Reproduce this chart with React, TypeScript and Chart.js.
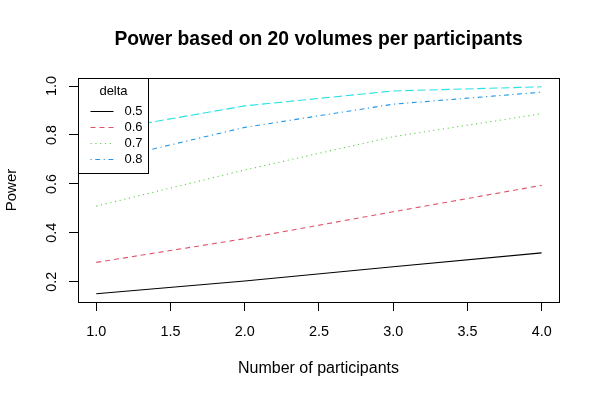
import React, { useEffect, useRef } from "react";
import { Chart, registerables } from "chart.js";

Chart.register(...registerables);

// ---- data ----
const participants = [1, 2, 3, 4];
const power05 = [0.151, 0.203, 0.261, 0.318];
const power06 = [0.279, 0.376, 0.486, 0.594];
const power07 = [0.509, 0.657, 0.793, 0.887];
const power08 = [0.688, 0.831, 0.926, 0.975];
const power09 = [0.813, 0.919, 0.98, 0.997];

const seriesLabels = ["0.5", "0.6", "0.7", "0.8", "0.9"];
const legendLabels = ["0.5", "0.6", "0.7", "0.8"];
const legendTitle = "delta";
const xTicks = [1, 1.5, 2, 2.5, 3, 3.5, 4];
const yTicks = [0.2, 0.4, 0.6, 0.8, 1.0];
const chartTitle = "Power based on 20 volumes per participants";
const xTitle = "Number of participants";
const yTitle = "Power";

// ---- styles ----
const colors = ["#000000", "#DF536B", "#61D04F", "#2297E6", "#28E2E5"];
const dashes: number[][] = [[], [5, 4], [1.2, 3.6], [1.2, 3.6, 4.8, 3.6], [8.4, 3.6]];
const FONT = "'Liberation Sans', Arial, Helvetica, sans-serif";

const allSeries = [power05, power06, power07, power08, power09];

const decorPlugin = {
  id: "decor",
  afterDraw(chart: any) {
    const { ctx, chartArea } = chart;
    const { left, right, top, bottom } = chartArea;
    ctx.save();
    // box
    ctx.strokeStyle = "#000";
    ctx.lineWidth = 1;
    ctx.setLineDash([]);
    ctx.strokeRect(Math.round(left) + 0.5, Math.round(top) + 0.5, Math.round(right - left), Math.round(bottom - top));

    const cx = (left + right) / 2;
    const cy = (top + bottom) / 2;
    ctx.fillStyle = "#000";
    // title
    ctx.font = `bold 19.3px ${FONT}`;
    ctx.textAlign = "center";
    ctx.textBaseline = "middle";
    ctx.fillText(chartTitle, cx, 40);
    // x title
    ctx.font = `16px ${FONT}`;
    ctx.fillText(xTitle, cx, 369);
    // y title
    ctx.font = `15px ${FONT}`;
    ctx.save();
    ctx.translate(12, cy);
    ctx.rotate(-Math.PI / 2);
    ctx.fillText(yTitle, 0, 0);
    ctx.restore();
    // y tick labels
    ctx.font = `14.4px ${FONT}`;
    const ys = chart.scales.y;
    for (const v of yTicks) {
      const py = ys.getPixelForValue(v);
      ctx.save();
      ctx.translate(52, py);
      ctx.rotate(-Math.PI / 2);
      ctx.fillText(v.toFixed(1), 0, 0);
      ctx.restore();
    }

    // legend
    const lx = Math.round(left) + 0.5;
    const ly = Math.round(top) + 0.5;
    const lw = 70;
    const lh = 95;
    ctx.fillStyle = "#fff";
    ctx.fillRect(lx, ly, lw, lh);
    ctx.strokeStyle = "#000";
    ctx.strokeRect(lx, ly, lw, lh);
    ctx.fillStyle = "#000";
    ctx.font = `13px ${FONT}`;
    ctx.textAlign = "center";
    ctx.fillText(legendTitle, lx + 35, ly + 13);
    legendLabels.forEach((lab, i) => {
      const yy = Math.round(ly + 32 + i * 16) + 0.5;
      ctx.strokeStyle = colors[i];
      ctx.setLineDash(dashes[i]);
      ctx.beginPath();
      ctx.moveTo(lx + 12, yy);
      ctx.lineTo(lx + 35, yy);
      ctx.stroke();
      ctx.setLineDash([]);
      ctx.fillStyle = "#000";
      ctx.textAlign = "left";
      ctx.fillText(lab, lx + 46, yy);
    });
    ctx.restore();
  },
};

export default function App() {
  const ref = useRef<HTMLCanvasElement>(null);
  useEffect(() => {
    if (!ref.current) return;
    const chart = new Chart(ref.current, {
      type: "scatter",
      data: {
        datasets: allSeries.map((s, i) => ({
          label: seriesLabels[i],
          data: participants.map((x, j) => ({ x, y: s[j] })),
          showLine: true,
          borderColor: colors[i],
          backgroundColor: colors[i],
          borderWidth: 1.1,
          borderDash: dashes[i],
          pointRadius: 0,
          tension: 0,
        })),
      },
      options: {
        responsive: false,
        animation: false,
        devicePixelRatio: 1,
        layout: { padding: { top: 78, right: 41, left: 0, bottom: 0 } },
        plugins: { legend: { display: false }, title: { display: false }, tooltip: { enabled: false } },
        scales: {
          x: {
            type: "linear",
            min: 0.877,
            max: 4.117,
            afterBuildTicks: (axis: any) => {
              axis.ticks = xTicks.map((v) => ({ value: v }));
            },
            afterFit: (axis: any) => {
              axis.height = 98;
            },
            grid: { drawOnChartArea: false, drawTicks: true, tickLength: 9, color: "#000" },
            border: { display: false },
            ticks: {
              color: "#000",
              font: { family: FONT, size: 14.4 },
              padding: 12,
              maxRotation: 0,
              minRotation: 0,
              autoSkip: false,
              callback: (v: any) => Number(v).toFixed(1),
            },
          },
          y: {
            type: "linear",
            min: 0.117,
            max: 1.033,
            afterBuildTicks: (axis: any) => {
              axis.ticks = yTicks.map((v) => ({ value: v }));
            },
            afterFit: (axis: any) => {
              axis.width = 78;
            },
            grid: { drawOnChartArea: false, drawTicks: true, tickLength: 9, color: "#000" },
            border: { display: false },
            ticks: { display: false },
          },
        },
      },
      plugins: [decorPlugin],
    });
    return () => chart.destroy();
  }, []);
  return (
    <div style={{ position: "fixed", left: 0, top: 0, width: 600, height: 400, background: "#fff" }}>
      <canvas ref={ref} width={600} height={400} />
    </div>
  );
}
